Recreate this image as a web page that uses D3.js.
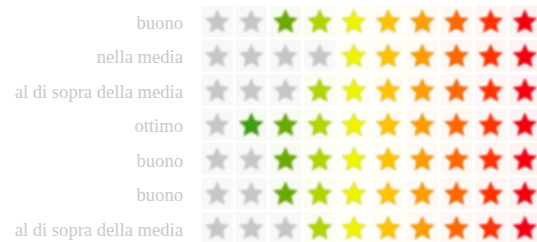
<!DOCTYPE html>
<html lang="it">
<head>
<meta charset="utf-8">
<style>
  html, body { margin: 0; padding: 0; background: #fff; }
</style>
</head>
<body>
<div id="chart"></div>
<script src="https://cdn.jsdelivr.net/npm/d3@7"></script>
<script>
// rating labels, one per row
var labels = ["buono", "nella media", "al di sopra della media", "ottimo", "buono", "buono", "al di sopra della media"];
// number of coloured stars in each row (counted from the right)
var ratings = [8, 6, 7, 9, 8, 8, 7];
// colour of each of the 10 star positions when lit
var starColors = ["#3f9d0c", "#3f9d0c", "#6aab00", "#b2d500", "#eef400", "#ffc300", "#ff9c00", "#ff6800", "#ff3200", "#f4000f"];
var offColor = "#c6c6c6";

var width = 537, height = 242;

var svg = d3.select("#chart").append("svg")
  .attr("width", width)
  .attr("height", height);

var defs = svg.append("defs");
defs.append("filter").attr("id", "soft")
  .attr("x", "-20%").attr("y", "-20%").attr("width", "140%").attr("height", "140%")
  .append("feGaussianBlur").attr("stdDeviation", 0.8);

var x = d3.scaleBand()
  .domain(d3.range(10))
  .range([200, 542])
  .paddingInner(0.08)
  .paddingOuter(0.04);

var y = d3.scaleBand()
  .domain(d3.range(labels.length))
  .range([4, 245])
  .paddingInner(0.08)
  .paddingOuter(0.04);

// star path centred on 0,0
function starPath(R, r) {
  var pts = [];
  for (var i = 0; i < 10; i++) {
    var a = -Math.PI / 2 + i * Math.PI / 5;
    var rad = i % 2 ? r : R;
    pts.push([rad * Math.cos(a), rad * Math.sin(a)]);
  }
  return "M" + pts.map(function (p) { return p[0].toFixed(2) + "," + p[1].toFixed(2); }).join("L") + "Z";
}
var star = starPath(12.5, 6);

var cells = [];
ratings.forEach(function (v, row) {
  d3.range(10).forEach(function (col) {
    cells.push({ row: row, col: col, on: col >= 10 - v });
  });
});

svg.append("g")
  .selectAll("text")
  .data(labels)
  .enter()
  .append("text")
  .attr("x", 183)
  .attr("y", function (d, i) { return y(i) + y.bandwidth() / 2; })
  .attr("dy", "0.42em")
  .attr("text-anchor", "end")
  .attr("font-family", "Liberation Serif, Times New Roman, serif")
  .style("font-size", "18.6px")
  .style("fill", "#c9c9c9")
  .text(function (d) { return d; });

var cell = svg.append("g")
  .selectAll("g")
  .data(cells)
  .enter()
  .append("g")
  .attr("transform", function (d) { return "translate(" + x(d.col) + "," + y(d.row) + ")"; });

cell.append("rect")
  .attr("width", x.bandwidth())
  .attr("height", y.bandwidth())
  .style("fill", function (d) {
    return d.on ? d3.interpolateRgb("#ffffff", starColors[d.col])(0.05) : "#f8f8f8";
  });

cell.append("path")
  .attr("d", star)
  .attr("transform", "translate(" + (x.bandwidth() / 2) + "," + (y.bandwidth() / 2 + 1) + ")")
  .attr("filter", "url(#soft)")
  .style("fill", function (d) { return d.on ? starColors[d.col] : offColor; })
  .style("stroke", function (d) { return d.on ? d3.color(starColors[d.col]).darker(1.2) : "#b8b8b8"; })
  .style("stroke-opacity", function (d) { return d.on ? 0.4 : 0.3; })
  .style("stroke-width", 1);
</script>
</body>
</html>
